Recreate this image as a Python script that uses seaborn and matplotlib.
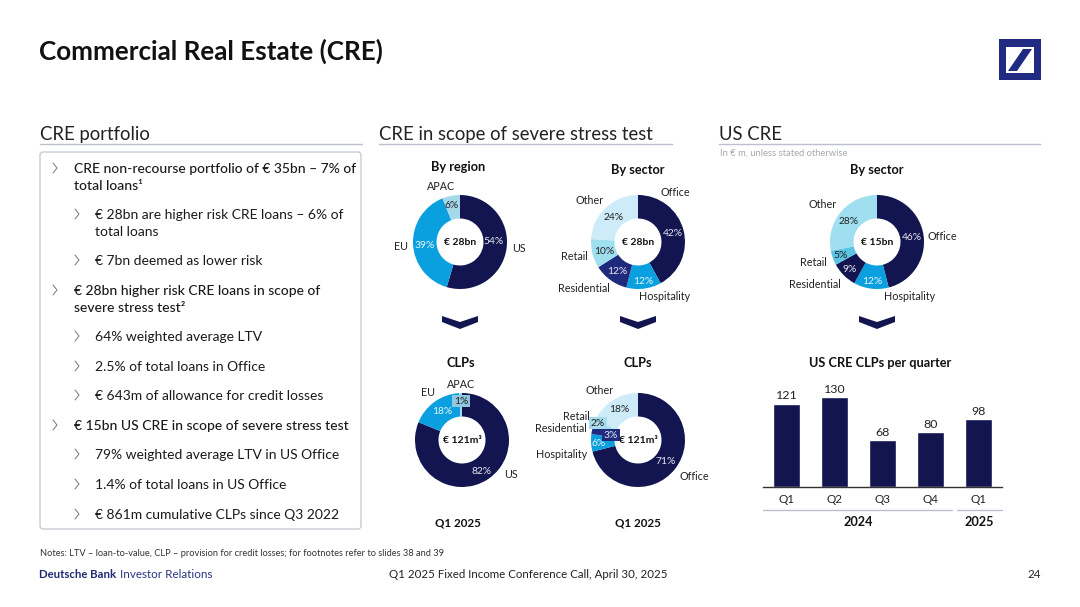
import numpy as np
import pandas as pd
import matplotlib
matplotlib.use("Agg")
import matplotlib.pyplot as plt
from matplotlib.patches import FancyBboxPatch, Polygon, Rectangle
import seaborn as sns

sns.set_theme(style="white")
plt.rcParams["font.family"] = ["Lato", "DejaVu Sans"]

# colours
NAVY = "#12154f"
MID = "#1f2a7c"
BLUE = "#0a9fdf"
SKY = "#9fdff0"
PALE = "#cdebf8"
APAC_C = "#a6d8ec"
TXT = "#222222"
RULE = "#bcc0cc"

# data
region_labels = ["US", "EU", "APAC"]
region_values = [54, 39, 6]
sector_labels = ["Office", "Hospitality", "Residential", "Retail", "Other"]
sector_values = [42, 12, 12, 10, 24]
clp_region_values = [82, 18, 1]
clp_sector_values = [71, 6, 3, 2, 18]
us_sector_values = [46, 12, 9, 5, 28]
quarters = ["Q1", "Q2", "Q3", "Q4", "Q1 "]
us_clps = [121, 130, 68, 80, 98]

W, H = 1080, 607
fig = plt.figure(figsize=(W / 100, H / 100), dpi=100, facecolor="white")
bg = fig.add_axes([0, 0, 1, 1])
bg.set_xlim(0, W)
bg.set_ylim(H, 0)
bg.axis("off")


def txt(x, y, s, px=11, weight="normal", color=TXT, ha="left", va="center", **kw):
    bg.text(x, y, s, fontsize=px * 0.72, fontweight=weight, color=color, ha=ha, va=va, **kw)


def px_axes(left, top, width, height):
    return fig.add_axes([left / W, 1 - (top + height) / H, width / W, height / H])


def donut(cx, cy, values, colors, centre, pct_pos, pct_colors, boxes=None):
    r = 47
    ax = px_axes(cx - r, cy - r, 2 * r, 2 * r)
    ax.pie(values, colors=colors, startangle=90, counterclock=False, radius=1,
           wedgeprops=dict(width=0.5, linewidth=0))
    ax.set_xlim(-1, 1)
    ax.set_ylim(-1, 1)
    ax.set_zorder(1)
    bg.set_zorder(2)
    bg.patch.set_alpha(0)
    txt(cx, cy + 0.5, centre, 10.4, "bold", "#111111", ha="center")
    for i, (v, (dx, dy), c) in enumerate(zip(values, pct_pos, pct_colors)):
        box = None
        if boxes and boxes[i]:
            box = dict(facecolor=boxes[i], edgecolor="none", pad=1.0)
        txt(cx + dx, cy + dy, f"{v}%", 10.2, color=c, ha="center", bbox=box)


def chevron(cx, top=316):
    pts = [(-18, 0), (0, 6), (18, 0), (18, 6), (0, 13), (-18, 6)]
    bg.add_patch(Polygon([(cx + a, top + b) for a, b in pts], closed=True, color=NAVY, lw=0))


# title and section headers
txt(39, 51, "Commercial Real Estate (CRE)", 26, "bold", "#111111")
for x0, x1, label in [(40, 362, "CRE portfolio"),
                      (379, 672, "CRE in scope of severe stress test"),
                      (719, 1040, "US CRE")]:
    txt(x0, 134.5, label, 18.55, color="#222222")
    bg.plot([x0, x1], [144, 144], color=RULE, lw=1)
txt(720, 153, "In € m, unless stated otherwise", 9.4, color="#a3a8b0")

# logo
bg.add_patch(Rectangle((999, 39), 42, 41, color="#1f2a80", lw=0))
bg.add_patch(Rectangle((1006, 47), 28, 26, color="white", lw=0))
bg.add_patch(Polygon([(1023, 49), (1032, 49), (1017, 71), (1008, 71)], closed=True,
                     color="#1f2a80", lw=0))

# left text panel
bg.add_patch(FancyBboxPatch((40, 152), 321, 377, boxstyle="round,pad=0,rounding_size=3",
                            fc="none", ec=RULE, lw=0.8))
bullets = [
    (0, 168, "CRE non-recourse portfolio of € 35bn – 7% of", True),
    (0, 185, "total loans¹", True),
    (1, 214, "€ 28bn are higher risk CRE loans – 6% of", False),
    (1, 231, "total loans", False),
    (1, 260, "€ 7bn deemed as lower risk", False),
    (0, 290, "€ 28bn higher risk CRE loans in scope of", True),
    (0, 307, "severe stress test²", True),
    (1, 336, "64% weighted average LTV", False),
    (1, 366, "2.5% of total loans in Office", False),
    (1, 395, "€ 643m of allowance for credit losses", False),
    (0, 425, "€ 15bn US CRE in scope of severe stress test", True),
    (1, 454, "79% weighted average LTV in US Office", False),
    (1, 484, "1.4% of total loans in US Office", False),
    (1, 514, "€ 861m cumulative CLPs since Q3 2022", False),
]
no_arrow = {185, 231, 307}
for level, y, s, strong in bullets:
    xt = 74 if level == 0 else 95
    txt(xt, y + 0.7, s, 13.85, "medium" if strong else "normal", "#1a1a1a")
    if y not in no_arrow:
        xa = 53 if level == 0 else 75
        bg.plot([xa, xa + 4, xa], [y - 5, y, y + 5], color="#777777", lw=0.7)

# donuts
donut(460, 242, region_values, [NAVY, BLUE, APAC_C], "€ 28bn",
      [(34, -1), (-35, 4), (-8, -37)], ["#e8e8f2", "#e8f6fc", TXT])
donut(638, 242, sector_values, [NAVY, BLUE, MID, SKY, PALE], "€ 28bn",
      [(35, -8), (5, 39), (-21, 30), (-34, 10), (-24, -25)],
      ["#e8e8f2", "#e8f6fc", "#e8e8f2", TXT, TXT])
donut(462, 440, clp_region_values, [NAVY, BLUE, APAC_C], "€ 121m³",
      [(20, 31), (-20, -29), (-1, -39)], ["#e8e8f2", "#e8f6fc", TXT],
      boxes=[None, None, "#8fc7dd"])
donut(638, 440, clp_sector_values, [NAVY, BLUE, MID, SKY, PALE], "€ 121m³",
      [(28, 22), (-39, 3), (-27, -5), (-40, -17), (-19, -30)],
      ["#e8e8f2", "#e8f6fc", "#e8e8f2", TXT, TXT],
      boxes=[None, None, MID, "#a6dced", None])
donut(877, 242, us_sector_values, [NAVY, BLUE, NAVY, "#5cc5e6", SKY], "€ 15bn",
      [(35, -4), (-5, 39), (-27, 27), (-36, 13), (-28, -21)],
      ["#e8e8f2", "#e8f6fc", "#e8e8f2", TXT, TXT])

# donut headings and labels
for x, y, s in [(458, 167, "By region"), (638, 170, "By sector"), (877, 170, "By sector"),
                (461, 363, "CLPs"), (638, 363, "CLPs")]:
    txt(x, y, s, 12.8, "bold", "#111111", ha="center")
for x, y, s in [(458, 523, "Q1 2025"), (638, 523, "Q1 2025")]:
    txt(x, y, s, 11.6, "bold", "#111111", ha="center")
for x, y, s, ha in [
    (441, 187, "APAC", "center"), (512, 249, "US", "left"), (408, 247, "EU", "right"),
    (675, 192, "Office", "center"), (590, 200, "Other", "center"), (588, 256, "Retail", "right"),
    (610, 288, "Residential", "right"), (665, 297, "Hospitality", "center"),
    (461, 385, "APAC", "center"), (428, 393, "EU", "center"), (504, 475, "US", "left"),
    (600, 391, "Other", "center"), (590, 417, "Retail", "right"), (587, 429, "Residential", "right"),
    (587, 455, "Hospitality", "right"), (680, 476, "Office", "left"),
    (823, 205, "Other", "center"), (928, 236, "Office", "left"), (827, 262, "Retail", "right"),
    (841, 284, "Residential", "right"), (910, 297, "Hospitality", "center"),
]:
    txt(x, y, s, 10.7, ha=ha)
for cx in [460, 638, 877]:
    chevron(cx)

# bars
ax = px_axes(763, 380, 239, 107)
df = pd.DataFrame({"quarter": quarters, "clps": us_clps})
sns.barplot(data=df, x="quarter", y="clps", color=NAVY, saturation=1, width=0.565, ax=ax)
ax.set_xlim(-0.5, 4.5)
ax.set_ylim(0, 107 / 0.69)
ax.patch.set_alpha(0)
ax.set_xlabel("")
ax.set_ylabel("")
ax.set_yticks([])
ax.set_xticks(range(5))
ax.set_xticklabels([q.strip() for q in quarters], fontsize=11.6 * 0.72, color=TXT)
ax.tick_params(axis="x", length=0, pad=5)
sns.despine(ax=ax, left=True)
ax.spines["bottom"].set_color("#333333")
ax.spines["bottom"].set_linewidth(1)
for c in ax.containers:
    ax.bar_label(c, fontsize=12.4 * 0.72, color=TXT, padding=1.5)
ax.set_zorder(3)

txt(880, 363, "US CRE CLPs per quarter", 12.8, "bold", "#111111", ha="center")
bg.plot([763, 952], [510, 510], color=RULE, lw=1)
bg.plot([957, 1002], [510, 510], color=RULE, lw=1)
txt(858, 522, "2024", 12.6, "bold", "#111111", ha="center")
txt(979, 522, "2025", 12.6, "bold", "#111111", ha="center")

# footer
txt(40, 554, "Notes: LTV – loan-to-value, CLP – provision for credit losses; for footnotes refer to slides 38 and 39",
    9.3, color="#333333")
txt(39, 574, "Deutsche Bank", 11.4, "bold", "#1f2a70")
txt(120, 574, "Investor Relations", 11.6, color="#2a3580")
txt(528, 574, "Q1 2025 Fixed Income Conference Call, April 30, 2025", 11.45, color="#222222", ha="center")
txt(1041, 574, "24", 11.6, color="#222222", ha="right")

fig.savefig("out.png", dpi=100)
